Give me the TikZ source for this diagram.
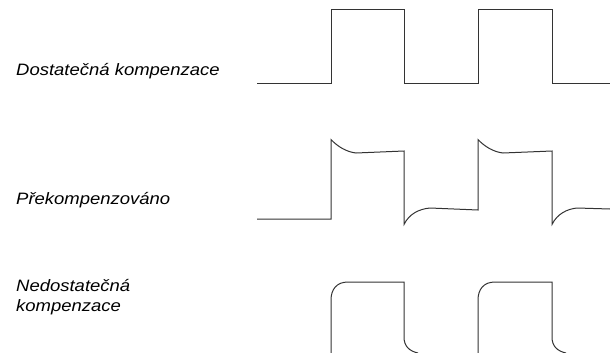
\documentclass[tikz,border=0pt]{standalone}
\usepackage{fontspec}
\setmainfont{Liberation Sans}
\newfontfamily\lblfont[FakeStretch=1.12]{Liberation Sans}
\begin{document}
\begin{tikzpicture}[x=1pt,y=-1pt,
  wave/.style={draw=black!80,line width=1pt,line join=miter},
  lbl/.style={anchor=base west,inner sep=0pt,align=left,font=\lblfont\fontsize{16.5pt}{20.6pt}\selectfont\itshape}]
\useasboundingbox (0,0) rectangle (610,353);
% labels
\node[lbl] (l1) at (16,75) {Dostatečná kompenzace};
\node[lbl] (l2) at (16,204.5) {Překompenzováno};
\node[lbl] (l3) at (16,311.7) {Nedostatečná\\kompenzace};
% sufficient compensation
\draw[wave] (257,83) -- (331,83) -- (331,9.5) -- (404,9.5) -- (404,83) -- (478,83) -- (478,9.5) -- (552,9.5) -- (552,83) -- (610,83);
% overcompensated
\draw[wave] (257,219) -- (331,219) -- (331,139.5)
  .. controls (338,147) and (347,152) .. (356,153) -- (404,151) -- (404,224.5)
  .. controls (409,214) and (419,209) .. (430,208) -- (478,210) -- (478,139.5)
  .. controls (485,147) and (494,152) .. (503,153) -- (552,151) -- (552,224.5)
  .. controls (557,214) and (567,209) .. (577,208) -- (610,209);
% undercompensated
\draw[wave] (331,353) -- (331,300)
  .. controls (331,289) and (337,282) .. (348,282) -- (404,282) -- (404,337)
  .. controls (404,346) and (409,351) .. (418,353);
\draw[wave] (478,353) -- (478,300)
  .. controls (478,289) and (484,282) .. (495,282) -- (552,282) -- (552,337)
  .. controls (552,346) and (557,351) .. (566,353);
\end{tikzpicture}
\end{document}
